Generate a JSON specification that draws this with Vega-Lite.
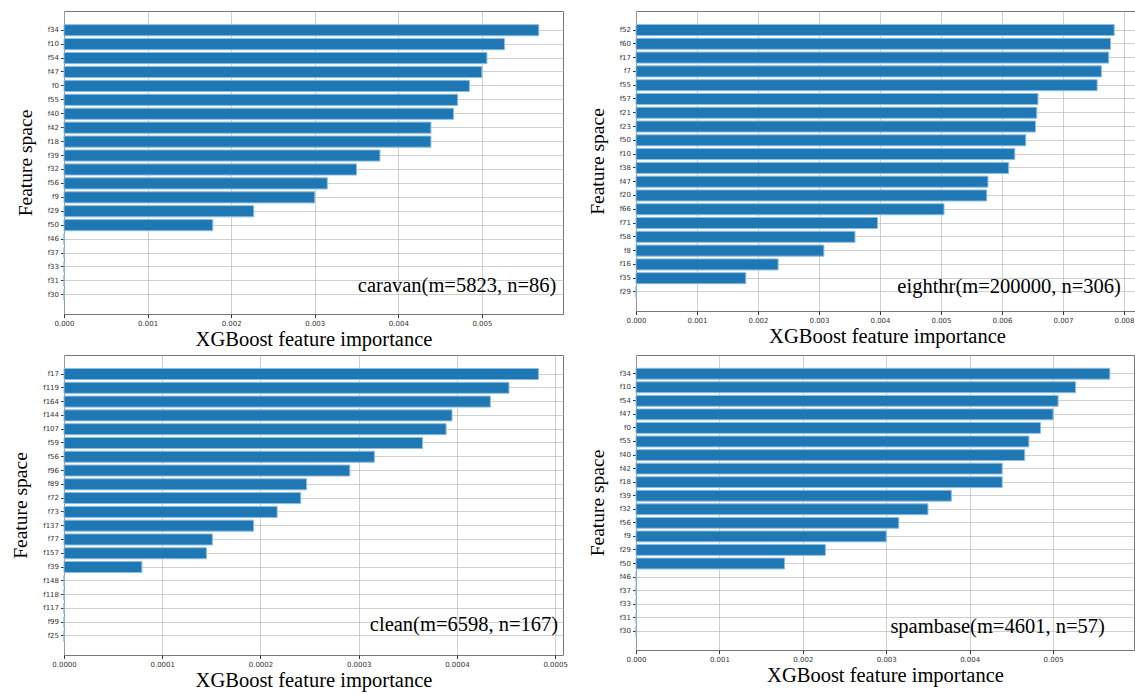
{
  "$schema": "https://vega.github.io/schema/vega-lite/v6.json",
  "background": "white",
  "padding": {"left": 10, "top": 10, "right": 0, "bottom": 0},
  "columns": 2,
  "bounds": "flush",
  "align": "each",
  "spacing": {"row": 41, "column": 73},
  "config": {
    "view": {"stroke": "#777777", "strokeWidth": 1},
    "axis": {
      "zindex": 1,
      "domain": false,
      "grid": true,
      "gridColor": "#b0b0b0",
      "gridOpacity": 0.6,
      "gridWidth": 1,
      "tickColor": "#333333",
      "tickSize": 3.5,
      "labelFont": "DejaVu Sans",
      "labelFontSize": 7,
      "labelColor": "#333333",
      "labelPadding": 2,
      "titleFont": "Liberation Serif",
      "titleFontWeight": "normal",
      "titleColor": "black"
    },
    "axisX": {"titleFontSize": 20.5, "titlePadding": 3, "labelFlush": false},
    "axisY": {"titleFontSize": 19.5, "titlePadding": 12}
  },
  "datasets": {
    "caravan": [
      {"feature": "f34", "importance": 0.00568},
      {"feature": "f10", "importance": 0.00527},
      {"feature": "f54", "importance": 0.00506},
      {"feature": "f47", "importance": 0.00500},
      {"feature": "f0", "importance": 0.00485},
      {"feature": "f55", "importance": 0.00471},
      {"feature": "f40", "importance": 0.00466},
      {"feature": "f42", "importance": 0.00439},
      {"feature": "f18", "importance": 0.00439},
      {"feature": "f39", "importance": 0.00378},
      {"feature": "f32", "importance": 0.00350},
      {"feature": "f56", "importance": 0.00315},
      {"feature": "f9", "importance": 0.00300},
      {"feature": "f29", "importance": 0.00227},
      {"feature": "f50", "importance": 0.00178},
      {"feature": "f46", "importance": 0},
      {"feature": "f37", "importance": 0},
      {"feature": "f33", "importance": 0},
      {"feature": "f31", "importance": 0},
      {"feature": "f30", "importance": 0}
    ],
    "eighthr": [
      {"feature": "f52", "importance": 0.00784},
      {"feature": "f60", "importance": 0.00778},
      {"feature": "f17", "importance": 0.00775},
      {"feature": "f7", "importance": 0.00763},
      {"feature": "f55", "importance": 0.00756},
      {"feature": "f57", "importance": 0.00659},
      {"feature": "f21", "importance": 0.00657},
      {"feature": "f23", "importance": 0.00655},
      {"feature": "f50", "importance": 0.00639},
      {"feature": "f10", "importance": 0.00621},
      {"feature": "f38", "importance": 0.00611},
      {"feature": "f47", "importance": 0.00577},
      {"feature": "f20", "importance": 0.00575},
      {"feature": "f66", "importance": 0.00505},
      {"feature": "f71", "importance": 0.00396},
      {"feature": "f58", "importance": 0.00359},
      {"feature": "f8", "importance": 0.00308},
      {"feature": "f16", "importance": 0.00233},
      {"feature": "f35", "importance": 0.00180},
      {"feature": "f29", "importance": 0}
    ],
    "clean": [
      {"feature": "f17", "importance": 0.000483},
      {"feature": "f119", "importance": 0.000453},
      {"feature": "f164", "importance": 0.000434},
      {"feature": "f144", "importance": 0.000395},
      {"feature": "f107", "importance": 0.000389},
      {"feature": "f59", "importance": 0.000365},
      {"feature": "f56", "importance": 0.000316},
      {"feature": "f96", "importance": 0.000291},
      {"feature": "f89", "importance": 0.000247},
      {"feature": "f72", "importance": 0.000241},
      {"feature": "f73", "importance": 0.000217},
      {"feature": "f137", "importance": 0.000193},
      {"feature": "f77", "importance": 0.000151},
      {"feature": "f157", "importance": 0.000145},
      {"feature": "f39", "importance": 0.0000793},
      {"feature": "f148", "importance": 0},
      {"feature": "f118", "importance": 0},
      {"feature": "f117", "importance": 0},
      {"feature": "f99", "importance": 0},
      {"feature": "f25", "importance": 0}
    ],
    "spambase": [
      {"feature": "f34", "importance": 0.00568},
      {"feature": "f10", "importance": 0.00527},
      {"feature": "f54", "importance": 0.00506},
      {"feature": "f47", "importance": 0.00500},
      {"feature": "f0", "importance": 0.00485},
      {"feature": "f55", "importance": 0.00471},
      {"feature": "f40", "importance": 0.00466},
      {"feature": "f42", "importance": 0.00439},
      {"feature": "f18", "importance": 0.00439},
      {"feature": "f39", "importance": 0.00378},
      {"feature": "f32", "importance": 0.00350},
      {"feature": "f56", "importance": 0.00315},
      {"feature": "f9", "importance": 0.00300},
      {"feature": "f29", "importance": 0.00227},
      {"feature": "f50", "importance": 0.00178},
      {"feature": "f46", "importance": 0},
      {"feature": "f37", "importance": 0},
      {"feature": "f33", "importance": 0},
      {"feature": "f31", "importance": 0},
      {"feature": "f30", "importance": 0}
    ],
    "notes": [
      {"panel": "caravan", "label": "caravan(m=5823, n=86)", "x": 0.00589, "feature": "f31"},
      {"panel": "eighthr", "label": "eighthr(m=200000, n=306)", "x": 0.00795, "feature": "f29"},
      {"panel": "clean", "label": "clean(m=6598, n=167)", "x": 0.000503, "feature": "f99"},
      {"panel": "spambase", "label": "spambase(m=4601, n=57)", "x": 0.00562, "feature": "f30"}
    ]
  },
  "concat": [
    {
      "width": 499, "height": 303,
      "layer": [
        {
          "data": {"name": "caravan"},
          "mark": {"type": "bar", "color": "#1f77b4", "stroke": "#8dbde0", "strokeWidth": 1},
          "encoding": {
            "y": {"field": "feature", "type": "nominal", "sort": null,
                  "scale": {"paddingInner": 0.2, "paddingOuter": 0.98},
                  "axis": {"title": "Feature space"}},
            "x": {"field": "importance", "type": "quantitative",
                  "scale": {"domain": [0, 0.00597], "nice": false},
                  "axis": {"title": "XGBoost feature importance", "values": [0, 0.001, 0.002, 0.003, 0.004, 0.005], "format": ".3f"}}
          }
        },
        {
          "data": {"name": "notes"},
          "transform": [{"filter": "datum.panel == 'caravan'"}],
          "mark": {"type": "text", "align": "right", "baseline": "middle", "dy": 5, "font": "Liberation Serif", "fontSize": 20.5, "color": "black"},
          "encoding": {
            "x": {"field": "x", "type": "quantitative"},
            "y": {"field": "feature", "type": "nominal", "sort": null},
            "text": {"field": "label"}
          }
        }
      ]
    },
    {
      "width": 502, "height": 300,
      "layer": [
        {
          "data": {"name": "eighthr"},
          "mark": {"type": "bar", "color": "#1f77b4", "stroke": "#8dbde0", "strokeWidth": 1},
          "encoding": {
            "y": {"field": "feature", "type": "nominal", "sort": null,
                  "scale": {"paddingInner": 0.2, "paddingOuter": 0.98},
                  "axis": {"title": "Feature space"}},
            "x": {"field": "importance", "type": "quantitative",
                  "scale": {"domain": [0, 0.00823], "nice": false},
                  "axis": {"title": "XGBoost feature importance", "values": [0, 0.001, 0.002, 0.003, 0.004, 0.005, 0.006, 0.007, 0.008], "format": ".3f"}}
          }
        },
        {
          "data": {"name": "notes"},
          "transform": [{"filter": "datum.panel == 'eighthr'"}],
          "mark": {"type": "text", "align": "right", "baseline": "middle", "dy": -5, "font": "Liberation Serif", "fontSize": 20.5, "color": "black"},
          "encoding": {
            "x": {"field": "x", "type": "quantitative"},
            "y": {"field": "feature", "type": "nominal", "sort": null},
            "text": {"field": "label"}
          }
        }
      ]
    },
    {
      "width": 499, "height": 300,
      "layer": [
        {
          "data": {"name": "clean"},
          "mark": {"type": "bar", "color": "#1f77b4", "stroke": "#8dbde0", "strokeWidth": 1},
          "encoding": {
            "y": {"field": "feature", "type": "nominal", "sort": null,
                  "scale": {"paddingInner": 0.2, "paddingOuter": 0.98},
                  "axis": {"title": "Feature space"}},
            "x": {"field": "importance", "type": "quantitative",
                  "scale": {"domain": [0, 0.000508], "nice": false},
                  "axis": {"title": "XGBoost feature importance", "values": [0, 0.0001, 0.0002, 0.0003, 0.0004, 0.0005], "format": ".4f"}}
          }
        },
        {
          "data": {"name": "notes"},
          "transform": [{"filter": "datum.panel == 'clean'"}],
          "mark": {"type": "text", "align": "right", "baseline": "middle", "dy": 3, "font": "Liberation Serif", "fontSize": 20.5, "color": "black"},
          "encoding": {
            "x": {"field": "x", "type": "quantitative"},
            "y": {"field": "feature", "type": "nominal", "sort": null},
            "text": {"field": "label"}
          }
        }
      ]
    },
    {
      "width": 498, "height": 295,
      "layer": [
        {
          "data": {"name": "spambase"},
          "mark": {"type": "bar", "color": "#1f77b4", "stroke": "#8dbde0", "strokeWidth": 1},
          "encoding": {
            "y": {"field": "feature", "type": "nominal", "sort": null,
                  "scale": {"paddingInner": 0.2, "paddingOuter": 0.98},
                  "axis": {"title": "Feature space"}},
            "x": {"field": "importance", "type": "quantitative",
                  "scale": {"domain": [0, 0.00597], "nice": false},
                  "axis": {"title": "XGBoost feature importance", "values": [0, 0.001, 0.002, 0.003, 0.004, 0.005], "format": ".3f"}}
          }
        },
        {
          "data": {"name": "notes"},
          "transform": [{"filter": "datum.panel == 'spambase'"}],
          "mark": {"type": "text", "align": "right", "baseline": "middle", "dy": -4, "font": "Liberation Serif", "fontSize": 20.5, "color": "black"},
          "encoding": {
            "x": {"field": "x", "type": "quantitative"},
            "y": {"field": "feature", "type": "nominal", "sort": null},
            "text": {"field": "label"}
          }
        }
      ]
    }
  ]
}
